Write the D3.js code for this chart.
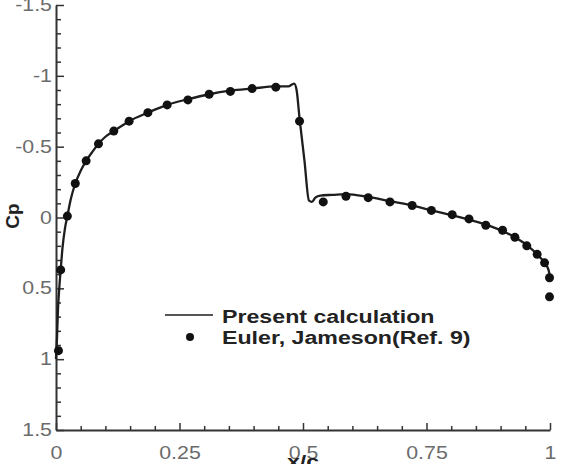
<!DOCTYPE html>
<html>
<head>
<meta charset="utf-8">
<script src="https://cdn.jsdelivr.net/npm/d3@7"></script>
<style>
  html, body { margin: 0; padding: 0; background: #fff; }
  svg { display: block; font-family: "Liberation Sans", Arial, sans-serif; }
</style>
</head>
<body>
<div id="chart"></div>
<script>
// present calculation (solid line)
const lineX  = [0.000, 0.002, 0.004, 0.007, 0.0095, 0.013, 0.018, 0.023, 0.030, 0.039, 0.050, 0.061, 0.075, 0.086, 0.100, 0.117, 0.148, 0.186, 0.225, 0.267, 0.310, 0.353, 0.397, 0.445, 0.470, 0.482, 0.487, 0.493, 0.503, 0.512, 0.518, 0.525, 0.535, 0.560, 0.587, 0.632, 0.676, 0.721, 0.760, 0.802, 0.836, 0.870, 0.904, 0.929, 0.953, 0.974, 0.989, 0.997, 1.000];
const lineCp = [1.00, 0.85, 0.65, 0.48, 0.37, 0.22, 0.08, -0.01, -0.13, -0.24, -0.33, -0.40, -0.47, -0.52, -0.57, -0.61, -0.68, -0.74, -0.795, -0.835, -0.87, -0.895, -0.91, -0.925, -0.925, -0.945, -0.90, -0.70, -0.40, -0.12, -0.11, -0.14, -0.155, -0.16, -0.165, -0.145, -0.115, -0.085, -0.05, -0.015, 0.015, 0.05, 0.095, 0.14, 0.195, 0.26, 0.32, 0.37, 0.42];

// Euler, Jameson (dots)
const ptX  = [0.005, 0.0095, 0.023, 0.039, 0.061, 0.086, 0.117, 0.148, 0.186, 0.225, 0.267, 0.310, 0.353, 0.397, 0.445, 0.493, 0.541, 0.587, 0.632, 0.676, 0.721, 0.760, 0.802, 0.836, 0.870, 0.904, 0.929, 0.953, 0.974, 0.989, 0.999, 0.999];
const ptCp = [0.94, 0.37, -0.01, -0.24, -0.40, -0.52, -0.61, -0.68, -0.74, -0.795, -0.83, -0.87, -0.89, -0.91, -0.92, -0.68, -0.11, -0.15, -0.14, -0.11, -0.085, -0.05, -0.02, 0.01, 0.055, 0.09, 0.14, 0.20, 0.26, 0.32, 0.425, 0.56];

const xTicks = [0, 0.25, 0.5, 0.75, 1];
const xTickLabels = ["0", "0.25", "0.5", "0.75", "1"];
const yTicks = [-1.5, -1, -0.5, 0, 0.5, 1, 1.5];
const yTickLabels = ["-1.5", "-1", "-0.5", "0", "0.5", "1", "1.5"];
const legendLabels = ["Present calculation", "Euler, Jameson(Ref. 9)"];

const W = 561, H = 464;
const stretch = 1.22; // the original figure is a bit wide

const svg = d3.select("#chart").append("svg")
  .attr("width", W)
  .attr("height", H);

const x = d3.scaleLinear().domain([0, 1]).range([56, 550]);
const y = d3.scaleLinear().domain([-1.5, 1.5]).range([5, 430]);

const xMinor = d3.range(0, 1.0001, 0.05).filter(v => !xTicks.some(t => Math.abs(t - v) < 1e-6));
const yMinor = d3.range(-1.5, 1.5001, 0.1).filter(v => !yTicks.some(t => Math.abs(t - v) < 1e-6));

// minor ticks
svg.append("g")
  .attr("transform", "translate(0,430)")
  .call(d3.axisBottom(x).tickValues(xMinor).tickSize(-4).tickFormat(""))
  .call(g => g.select(".domain").remove());
svg.append("g")
  .attr("transform", "translate(56,0)")
  .call(d3.axisLeft(y).tickValues(yMinor).tickSize(-5).tickFormat(""))
  .call(g => g.select(".domain").remove());

// major axes
const gx = svg.append("g")
  .attr("transform", "translate(0,430)")
  .call(d3.axisBottom(x).tickValues(xTicks).tickSizeInner(-7).tickSizeOuter(0)
    .tickFormat((d, i) => xTickLabels[i]));
gx.selectAll("text")
  .attr("y", 17)
  .attr("x", 0)
  .attr("transform", `scale(${stretch},1)`)
  .attr("font-size", 17.5)
  .attr("fill", "#6b6b6b");

const gy = svg.append("g")
  .attr("transform", "translate(56,0)")
  .call(d3.axisLeft(y).tickValues(yTicks).tickSizeInner(-8).tickSizeOuter(0)
    .tickFormat((d, i) => yTickLabels[i]));
gy.selectAll("text")
  .attr("x", -4 / stretch)
  .attr("transform", `scale(${stretch},1)`)
  .attr("font-size", 17.5)
  .attr("fill", "#6b6b6b");

svg.selectAll(".domain").attr("stroke", "#333").attr("stroke-width", 2);
svg.selectAll(".tick line").attr("stroke", "#333").attr("stroke-width", 1.5);

// axis titles
svg.append("text")
  .attr("transform", `translate(${x(0.5)},468) scale(${stretch},1)`)
  .attr("text-anchor", "middle")
  .attr("font-size", 19)
  .attr("font-weight", "bold")
  .attr("fill", "#222")
  .text("x/c");

svg.append("text")
  .attr("transform", "translate(19,216) rotate(-90)")
  .attr("text-anchor", "middle")
  .attr("font-size", 19)
  .attr("font-weight", "bold")
  .attr("fill", "#222")
  .text("Cp");

// curve
const lineData = lineX.map((v, i) => [v, lineCp[i]]);
svg.append("path")
  .datum(lineData)
  .attr("fill", "none")
  .attr("stroke", "#1e1e1e")
  .attr("stroke-width", 2.3)
  .attr("stroke-linejoin", "round")
  .attr("d", d3.line()
    .x(d => x(d[0]))
    .y(d => y(d[1]))
    .curve(d3.curveMonotoneX));

// dots
svg.append("g")
  .selectAll("circle")
  .data(ptX.map((v, i) => [v, ptCp[i]]))
  .join("circle")
    .attr("cx", d => x(d[0]))
    .attr("cy", d => y(d[1]))
    .attr("r", 4.5)
    .attr("fill", "#111");

// legend
const lg = svg.append("g");
lg.append("line")
  .attr("x1", 165).attr("x2", 213)
  .attr("y1", 315).attr("y2", 315)
  .attr("stroke", "#555")
  .attr("stroke-width", 2);
lg.append("circle")
  .attr("cx", 190).attr("cy", 337)
  .attr("r", 4)
  .attr("fill", "#111");
lg.selectAll("text.lab")
  .data(legendLabels)
  .join("text")
    .attr("class", "lab")
    .attr("transform", (d, i) => `translate(222,${323 + i * 21}) scale(${stretch},1)`)
    .attr("font-size", 19)
    .attr("font-weight", "bold")
    .attr("fill", "#222")
    .text(d => d);
</script>
</body>
</html>
